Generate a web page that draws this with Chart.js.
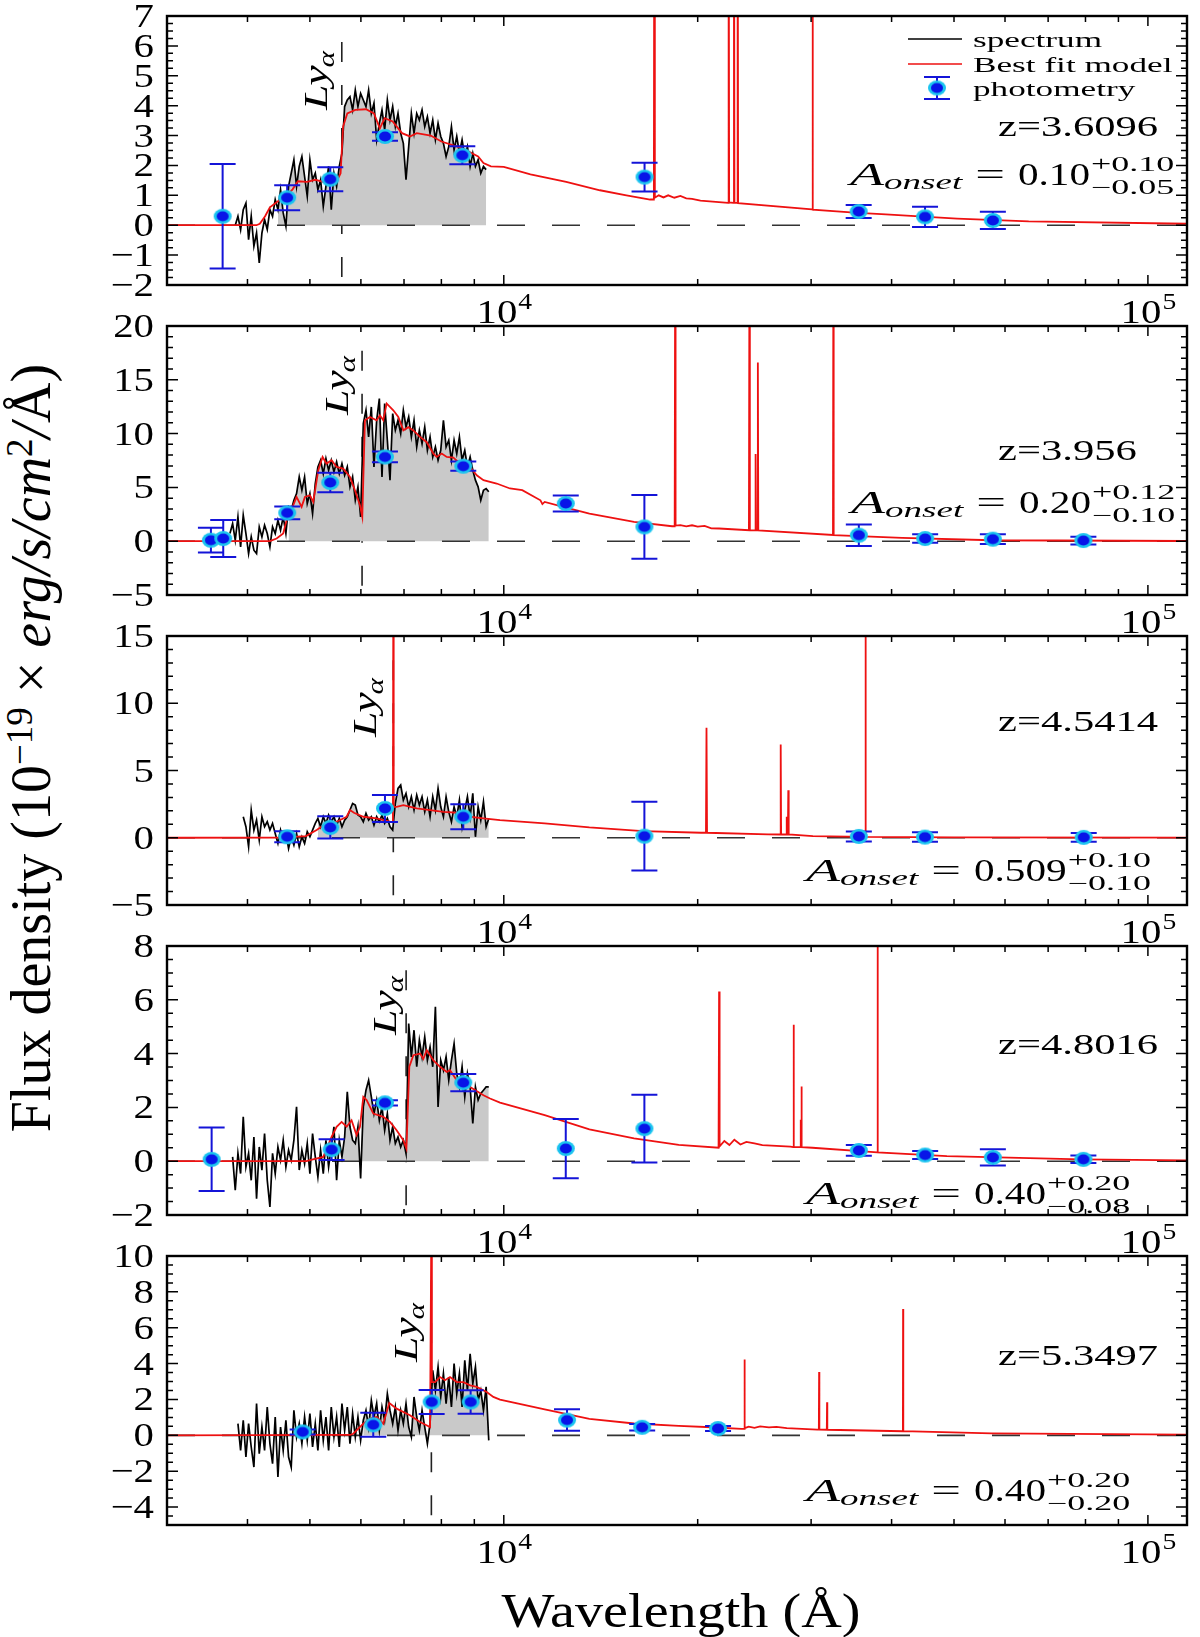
<!DOCTYPE html>
<html>
<head>
<meta charset="utf-8">
<script src="https://cdn.jsdelivr.net/npm/chart.js@4.4.1/dist/chart.umd.min.js"></script>
<style>
body { margin: 0; background: #fff; }
#fig { position: relative; width: 1200px; height: 1637px; background: #fff; overflow: hidden; }
#fig canvas { position: absolute; left: 0; }
.xlabel { position: absolute; left: 0; width: 1362px; top: 1587px; text-align: center;
  font: 48px "Liberation Serif", serif; line-height: 48px; transform: scaleX(1.17); white-space: nowrap; }
.ylabel { position: absolute; left: 31px; top: 748px; transform: translate(-50%, -50%) rotate(-90deg);
  font: 56px "Liberation Serif", serif; line-height: 1; white-space: nowrap; }
.ylabel sup { font-size: 0.66em; vertical-align: 0.5em; line-height: 0; }
</style>
</head>
<body>
<div id="fig">
  <div class="ylabel">Flux density (10<sup>−19</sup> × <i>erg/s/cm</i><sup>2</sup><i>/</i>Å)</div>
  <div class="xlabel">Wavelength (Å)</div>
</div>
<script>
// observed wavelength grid of the spectra (Å), shared by all five panels
const specWave = [
  3757, 3793, 3829, 3866, 3903, 3940, 3978, 4016, 4054, 4093,
  4132, 4172, 4212, 4252, 4293, 4334, 4375, 4417, 4460, 4502,
  4545, 4589, 4633, 4677, 4722, 4767, 4813, 4859, 4906, 4953,
  5000, 5048, 5097, 5145, 5195, 5245, 5295, 5346, 5397, 5449,
  5501, 5554, 5607, 5661, 5715, 5770, 5825, 5881, 5937, 5994,
  6052, 6110, 6168, 6228, 6287, 6348, 6409, 6470, 6532, 6595,
  6658, 6722, 6786, 6851, 6917, 6983, 7050, 7118, 7186, 7255,
  7325, 7395, 7466, 7538, 7610, 7683, 7757, 7831, 7906, 7982,
  8059, 8136, 8214, 8293, 8372, 8452, 8533, 8615, 8698, 8781,
  8866, 8951, 9036, 9123, 9210, 9299, 9388, 9477
];

const specFlux1 = [
  null, null, 0.0, 0.3, -0.15, 0.52, 0.74, -0.48, 0.3, -0.7,
  -0.26, -1.26, -0.26, 0.19, -0.14, 0.52, 0.3, 0.86, 0.52, 1.19,
  0.41, -0.03, 1.3, 1.74, 2.19, 1.3, 1.97, 2.3, 1.63, 0.97,
  2.19, 1.52, 1.74, 1.19, 1.52, 0.63, 1.3, 1.97, 0.52, 1.74,
  1.3, 1.97, 2.41, 3.97, 4.19, 4.3, 3.86, 4.52, 3.97, 4.41,
  4.19, 3.97, 4.52, 3.74, 4.08, 2.86, 3.41, 3.86, 3.19, 4.19,
  3.52, 3.97, 3.3, 3.74, 3.08, 2.74, 1.52, 2.63, 3.74, 3.08,
  3.74, 3.52, 3.86, 3.3, 3.63, 3.08, 3.52, 2.86, 3.41, 2.97,
  2.74, 2.3, 2.63, 3.3, 2.52, 2.97, 2.41, 2.86, 2.3, 2.63,
  1.97, 2.41, 1.97, 2.19, 1.74, 1.97, 1.86, null
];
const specFlux2 = [
  0.71, 1.64, 0.09, 2.26, -0.53, 2.41, 0.71, -1.15, 0.4, -0.84,
  -1.15, 1.33, 0.4, 1.49, 0.71, -0.53, 1.33, 0.71, 1.95, 1.02,
  2.26, 0.71, 3.19, 2.88, 3.81, 4.43, 5.98, 4.74, 5.98, 3.5,
  4.43, 2.57, 5.36, 6.9, 7.52, 6.28, 7.68, 6.59, 7.52, 6.44,
  7.37, 6.28, 7.21, 6.13, 6.9, 5.05, 5.98, 3.81, 5.05, 2.26,
  10.93, 12.17, 9.69, 12.48, 6.9, 11.24, 13.25, 5.98, 12.79, 9.38,
  5.67, 11.86, 10.31, 11.24, 10.0, 12.17, 10.62, 11.55, 9.69, 11.24,
  8.76, 10.31, 9.07, 10.62, 8.45, 9.69, 7.83, 8.76, 7.52, 8.45,
  11.24, 8.76, 9.38, 7.52, 9.38, 8.14, 9.69, 7.52, 8.45, 6.9,
  7.83, 6.59, 5.67, 5.05, 3.81, 4.74, 4.89, 4.6
];
const specFlux3 = [
  null, null, null, null, null, 1.56, 0.82, -0.67, 2.06, 0.57,
  1.31, -0.17, 1.56, 0.82, 1.19, 0.57, 1.07, 0.32, -0.42, 0.57,
  -0.17, 0.32, -0.79, 0.07, -0.55, 0.32, -0.67, 0.07, -0.42, 0.45,
  0.07, 0.57, 1.07, 1.44, 0.82, 1.56, 1.07, 1.69, 1.19, 1.56,
  0.94, 1.44, 0.82, 1.31, 1.56, 2.06, 2.55, 2.43, 1.69, 1.56,
  1.19, 1.81, 1.31, 1.56, 0.94, 1.56, 1.19, 1.69, 1.07, 1.44,
  0.82, 0.57, 2.55, 3.67, 3.92, 2.8, 3.3, 2.3, 3.05, 2.06,
  3.17, 2.43, 3.05, 1.93, 2.8, 1.56, 3.05, 2.06, 3.67, 2.3,
  1.56, 3.05, 1.93, 1.19, 2.3, 1.56, 2.8, 0.82, 2.06, 3.05,
  1.56, 3.3, 0.07, 2.3, 1.31, 2.68, 0.82, 1.44
];
const specFlux4 = [
  null, 0.16, -1.08, 0.29, -0.46, 1.65, -0.21, 0.29, -0.71, 0.9,
  -1.39, 0.53, -0.33, 1.03, -0.71, -1.7, 0.29, -0.46, 0.53, 0.04,
  0.78, -0.21, 0.41, 0.04, 0.78, 2.02, -0.33, 0.41, -0.09, 0.66,
  -0.46, 1.03, 0.16, -0.58, 0.41, -0.46, 0.78, -0.21, 0.53, 1.28,
  -0.71, 0.78, 0.16, 0.9, 2.58, 1.28, 0.78, 0.66, 1.28, -0.64,
  2.02, 2.64, 3.01, 2.39, 1.77, 2.27, 1.52, 2.02, 1.15, 1.77,
  0.78, 1.28, 0.66, 0.9, 0.53, 0.78, 0.29, 5.12, 3.88, 4.87,
  3.51, 4.5, 3.88, 4.62, 3.75, 4.25, 3.51, 5.74, 2.02, 3.75,
  3.38, 3.88, 3.01, 3.75, 4.37, 3.26, 2.76, 3.51, 2.39, 3.26,
  2.76, 1.4, 2.76, 2.27, 2.52, 2.64, 2.76, 2.76
];
const specFlux5 = [
  null, null, null, 0.65, -0.84, 0.84, -1.21, 0.65, -0.65, -1.77,
  1.77, -1.02, 0.46, -0.84, 1.58, -0.46, -1.58, 1.02, -2.32, 0.46,
  -0.84, 0.84, -1.21, -1.77, 1.39, -0.09, 0.65, -0.46, 1.02, -0.28,
  1.21, -0.65, 0.65, -0.84, 1.39, -0.28, 1.02, -0.84, 1.58, -0.09,
  1.02, -0.65, 1.77, 0.28, 1.58, -0.46, 1.21, -0.09, 1.02, -0.28,
  0.84, 1.39, 0.46, 1.95, 1.02, 1.77, 0.28, 1.58, 0.84, 2.32,
  1.39, 0.65, 1.58, 0.28, 1.39, 0.65, 1.77, 0.46, -0.09, 2.14,
  1.02, 0.28, 1.39, 0.46, -0.46, 0.65, 3.62, 2.51, 3.81, 2.14,
  3.44, 1.77, 3.25, 1.58, 4.0, 2.32, 3.44, 1.58, 4.18, 2.51,
  4.55, 2.88, 3.81, 1.95, 2.51, 1.39, 2.7, -0.28
];

// best fit model, [wavelength, flux] pairs
const model1 = [[3000,0],[4130,0],[4180,0.05],[4260,0.3],[4334,0.6],[4460,0.8],[4589,0.97],[4700,1.2],[4790,1.47],
  [4950,1.45],[5097,1.52],[5245,1.45],[5449,1.41],[5540,1.6],[5580,1.74],[5630,3.3],[5715,3.74],[5881,3.86],
  [6110,3.88],[6287,3.74],[6420,3.24],[6532,3.58],[6722,3.47],[6950,3.08],[7150,2.97],[7325,3.08],[7700,3.0],
  [8000,2.8],[8615,2.58],[9123,2.3],[9299,2.08],[9550,1.97],[10000,1.95],[11000,1.7],[12500,1.45],[14100,1.17],
  [15500,1.0],[16870,0.86],[17100,0.86],[17130,14],[17160,0.92],[17400,1.0],[17700,0.93],[18000,1.0],
  [18400,0.92],[18800,0.98],[19200,0.9],[19600,0.88],[20200,0.82],[22300,0.75],[22340,14],[22380,0.76],
  [22730,0.75],[22770,14],[22810,0.75],[23030,0.75],[23070,14],[23110,0.74],[30100,0.53],[30150,14],
  [30200,0.52],[35000,0.42],[39170,0.36],[50550,0.22],[65300,0.13],[115000,0.05]];
const model2 = [[3000,0],[4334,0],[4439,0.25],[4545,0.71],[4600,1.95],[4656,2.57],[4767,4.12],[4854,3.19],
  [4912,4.12],[5000,4.27],[5061,3.65],[5152,6.6],[5232,7.83],[5307,7.21],[5403,7.52],[5501,6.9],[5632,6.75],
  [5770,5.98],[5873,4.74],[5980,3.34],[6030,2.26],[6087,11.24],[6197,11.55],[6348,11.24],[6422,11.7],
  [6500,11.24],[6578,12.8],[6737,12.17],[6859,11.55],[6983,10.3],[7109,10.6],[7238,10.3],[7413,9.7],
  [7592,9.2],[7775,8.14],[7867,7.83],[8010,8.14],[8155,7.83],[8351,7.77],[8551,7.2],[8866,6.9],[9078,6.13],
  [9299,5.67],[9748,5.36],[10223,4.9],[10683,4.74],[11400,3.8],[11480,3.45],[11574,3.65],[12536,3.1],
  [13580,2.57],[15930,1.8],[18250,1.39],[18420,1.39],[18450,24],[18480,1.45],[18800,1.5],[19200,1.38],
  [19600,1.48],[20000,1.35],[20500,1.42],[21000,1.2],[21590,1.18],[24020,1.02],[24060,24],[24100,1.02],
  [24560,1.0],[24600,8.1],[24640,1.0],[24760,1.0],[24800,16.6],[24840,1.0],[32440,0.58],[32480,24],
  [32520,0.56],[41540,0.31],[57190,0.09],[115000,0.02]];
const model3 = [[3000,0],[4545,0.02],[4930,0.12],[5122,0.57],[5307,1.07],[5501,1.19],[5702,1.56],[5770,2.06],
  [5853,1.86],[6052,1.56],[6348,1.44],[6658,1.19],[6728,1.15],[6737,18],[6746,2.3],[6817,2.3],[6983,2.43],
  [7325,2.18],[7683,2.06],[8059,1.93],[8452,1.86],[8866,1.56],[9299,1.44],[9865,1.31],[11574,1.07],
  [13580,0.77],[16450,0.5],[20240,0.37],[20600,0.37],[20640,8.18],[20680,0.37],[25720,0.25],[26870,0.24],
  [26910,6.94],[26950,0.24],[27450,0.24],[27480,1.56],[27510,0.24],[27610,0.24],[27650,3.54],[27690,0.24],
  [30190,0.12],[36400,0.07],[36440,20],[36480,0.07],[50000,0.03],[115000,0.01]];
const model4 = [[3000,0],[4941,0],[5000,0.04],[5245,0.16],[5403,0.9],[5501,1.28],[5600,1.46],[5702,1.28],
  [5803,1.52],[5908,0.97],[5980,1.28],[6052,2.39],[6124,2.27],[6272,1.77],[6500,1.65],[6658,1.46],[6817,1.15],
  [6983,0.78],[7060,0.47],[7134,3.51],[7238,3.94],[7413,4.0],[7499,3.8],[7592,4.13],[7775,3.75],[7962,3.51],
  [8155,3.32],[8250,3.38],[8452,3.01],[8652,2.88],[8866,2.76],[9299,2.45],[9520,2.33],[9865,2.18],
  [11574,1.71],[13580,1.18],[15930,0.85],[18690,0.61],[21550,0.5],[21590,6.31],[21630,0.55],[22000,0.75],
  [22400,0.6],[22800,0.8],[23300,0.62],[23800,0.72],[24500,0.66],[25200,0.6],[27860,0.54],[28150,0.52],
  [28180,5.07],[28210,0.52],[28880,0.52],[28910,1.54],[28940,0.52],[28970,0.52],[29000,2.78],[29030,0.52],
  [30140,0.5],[38020,0.33],[38050,20],[38080,0.33],[48740,0.19],[78740,0.07],[115000,0.03]];
const model5 = [[3000,0],[5770,0.02],[5838,0.09],[6052,0.65],[6197,0.93],[6348,1.02],[6500,0.65],[6641,1.8],
  [6817,1.49],[7150,1.12],[7413,0.74],[7683,0.46],[7705,0.46],[7719,12],[7733,2.97],[7819,2.97],[7962,3.25],
  [8105,3.07],[8250,3.25],[8452,2.97],[8652,2.97],[8866,2.79],[9078,2.7],[9407,2.42],[9633,2.14],[9865,1.99],
  [11574,1.45],[13580,0.92],[15930,0.66],[18690,0.53],[21000,0.45],[23380,0.36],[23610,0.36],[23640,4.23],
  [23670,0.4],[24000,0.48],[24500,0.42],[25000,0.5],[25800,0.44],[26500,0.47],[27500,0.4],[30670,0.32],
  [30840,0.32],[30870,3.53],[30900,0.32],[31730,0.31],[31760,1.84],[31790,0.31],[41650,0.23],[41680,7.05],
  [41710,0.23],[57190,0.11],[115000,0.04]];

// photometry: wavelength, flux, symmetric error
const photWave1 = [3660, 4610, 5378, 6540, 8622, 16540, 35560, 45080, 57450];
const photFlux1 = [0.3, 0.92, 1.54, 2.97, 2.34, 1.61, 0.46, 0.28, 0.16];
const photErr1  = [1.75, 0.42, 0.4, 0.14, 0.3, 0.48, 0.22, 0.34, 0.29];
const photWave2 = [3510, 3668, 4611, 5378, 6539, 8652, 12480, 16530, 35580, 45100, 57450, 79400];
const photFlux2 = [0.09, 0.25, 2.63, 5.45, 7.83, 6.97, 3.5, 1.33, 0.56, 0.25, 0.19, 0.06];
const photErr2  = [1.15, 1.73, 0.6, 0.9, 0.5, 0.43, 0.74, 2.97, 1.0, 0.39, 0.46, 0.36];
const photWave3 = [4611, 5378, 6539, 8652, 16530, 35580, 45070, 79500];
const photFlux3 = [0.07, 0.77, 2.18, 1.56, 0.12, 0.1, 0.05, 0.03];
const photErr3  = [0.41, 0.82, 1.0, 0.93, 2.55, 0.37, 0.35, 0.32];
const photWave4 = [3519, 5403, 6539, 8652, 12480, 16530, 35580, 45100, 57450, 79400];
const photFlux4 = [0.07, 0.43, 2.17, 2.92, 0.47, 1.21, 0.4, 0.23, 0.14, 0.07];
const photErr4  = [1.18, 0.39, 0.1, 0.32, 1.1, 1.26, 0.2, 0.15, 0.3, 0.14];
const photWave5 = [4872, 6271, 7727, 8882, 12536, 16400, 21510];
const photFlux5 = [0.19, 0.59, 1.86, 1.86, 0.85, 0.45, 0.38];
const photErr5  = [0.14, 0.67, 0.67, 0.65, 0.6, 0.18, 0.14];

const redshift = ['3.6096', '3.956', '4.5414', '4.8016', '5.3497'];
const aOnset   = ['0.10', '0.20', '0.509', '0.40', '0.40'];
const aPlus    = ['+0.10', '+0.12', '+0.10', '+0.20', '+0.20'];
const aMinus   = ['−0.05', '−0.10', '−0.10', '−0.08', '−0.20'];
const lyaWave  = [5604, 6025, 6737, 7053, 7719];
const lyaTop   = [6.13, 17.7, 13.2, 7.1, 8.65];
const grayStart = [4460, 4600, 5100, 5600, 6050];
const grayEnd = 9500;

const yMin   = [-2, -5, -5, -2, -5];
const yMax   = [7, 20, 15, 8, 10];
const yMajor = [1, 5, 5, 2, 2];
const yMinor = [0.25, 1, 1, 0.5, 0.5];
const xMajorTicks = [10000, 100000];
const xMinorTicks = [4000, 5000, 6000, 7000, 8000, 9000, 20000, 30000, 40000, 50000, 60000, 70000, 80000, 90000];
const xTickExp = ['4', '5'];

const specFlux = [specFlux1, specFlux2, specFlux3, specFlux4, specFlux5];
const models = [model1, model2, model3, model4, model5];
const photWave = [photWave1, photWave2, photWave3, photWave4, photWave5];
const photFlux = [photFlux1, photFlux2, photFlux3, photFlux4, photFlux5];
const photErr = [photErr1, photErr2, photErr3, photErr4, photErr5];

// layout (pixels)
const PANEL_STEP = 310, CANVAS_H = 360;
const zTextY = [120, 134, 95, 108, 109];
const aTextX = [850, 851, 806, 806, 806];
const aTextY = [169, 187, 245, 258, 245];
const lyaDx = [-15, -14, -17, -10, -14];
const lyaY = [94, 89, 101, 89, 106];

const FONT = '"Liberation Serif", serif';
const BLUE = '#1414d8';

function txt(ctx, s, x, y, size, sx, opt) {
  opt = opt || {};
  ctx.save();
  ctx.font = (opt.italic ? 'italic ' : '') + size + 'px ' + FONT;
  ctx.fillStyle = '#000';
  ctx.textBaseline = 'alphabetic';
  ctx.translate(x, y);
  ctx.scale(sx, 1);
  const w = ctx.measureText(s).width;
  const dx = opt.align === 'right' ? -w : (opt.align === 'center' ? -w / 2 : 0);
  ctx.fillText(s, dx, 0);
  ctx.restore();
  return w * sx;
}
function txtWidth(ctx, s, size, sx, italic) {
  ctx.save();
  ctx.font = (italic ? 'italic ' : '') + size + 'px ' + FONT;
  const w = ctx.measureText(s).width * sx;
  ctx.restore();
  return w;
}

// photometry marker: blue disc with cyan rim
const markerImg = document.createElement('canvas');
markerImg.width = 20; markerImg.height = 17;
(function () {
  const m = markerImg.getContext('2d');
  m.fillStyle = '#1cc4ef';
  m.beginPath(); m.ellipse(10, 8.5, 9, 7.5, 0, 0, 2 * Math.PI); m.fill();
  m.fillStyle = '#0814e8';
  m.beginPath(); m.ellipse(10, 8.5, 6, 5, 0, 0, 2 * Math.PI); m.fill();
})();

function errBar(ctx, px, top, bot) {
  ctx.beginPath();
  ctx.moveTo(px, top); ctx.lineTo(px, bot);
  ctx.moveTo(px - 13, top); ctx.lineTo(px + 13, top);
  ctx.moveTo(px - 13, bot); ctx.lineTo(px + 13, bot);
  ctx.stroke();
}

function clipArea(ctx, a) {
  ctx.beginPath();
  ctx.rect(a.left, a.top, a.right - a.left, a.bottom - a.top);
  ctx.clip();
}

const panelDecor = {
  id: 'panelDecor',
  beforeDatasetsDraw(chart) {
    const i = +chart.canvas.dataset.panel;
    const { ctx, chartArea: a } = chart;
    const px = chart.scales.x.getPixelForValue(lyaWave[i]);
    const py = chart.scales.y.getPixelForValue(lyaTop[i]);
    ctx.save();
    clipArea(ctx, a);
    ctx.strokeStyle = '#222';
    ctx.lineWidth = 1.6;
    ctx.setLineDash([20, 23]);
    ctx.beginPath(); ctx.moveTo(px, py); ctx.lineTo(px, a.bottom); ctx.stroke();
    ctx.restore();
  },
  afterDatasetDraw(chart, args) {
    const i = +chart.canvas.dataset.panel;
    const { ctx, chartArea: a } = chart;
    const xs = chart.scales.x, ys = chart.scales.y;
    if (args.index === 3) {
      const py = ys.getPixelForValue(0);
      ctx.save();
      clipArea(ctx, a);
      ctx.strokeStyle = '#333';
      ctx.lineWidth = 1.6;
      ctx.setLineDash([28, 27]);
      ctx.beginPath(); ctx.moveTo(a.left, py); ctx.lineTo(a.right, py); ctx.stroke();
      ctx.restore();
    }
    if (args.index === 1) {
      ctx.save();
      clipArea(ctx, a);
      ctx.strokeStyle = BLUE;
      ctx.lineWidth = 2;
      photWave[i].forEach((w, k) => {
        errBar(ctx, xs.getPixelForValue(w),
          ys.getPixelForValue(photFlux[i][k] + photErr[i][k]),
          ys.getPixelForValue(photFlux[i][k] - photErr[i][k]));
      });
      ctx.restore();
    }
  },
  afterDraw(chart) {
    const i = +chart.canvas.dataset.panel;
    const { ctx, chartArea: a } = chart;
    const xs = chart.scales.x, ys = chart.scales.y;
    ctx.save();
    ctx.strokeStyle = '#000';
    ctx.lineWidth = 1.5;

    // x ticks, top and bottom, pointing in
    const xt = (v, len) => {
      const px = xs.getPixelForValue(v);
      ctx.beginPath();
      ctx.moveTo(px, a.bottom); ctx.lineTo(px, a.bottom - len);
      ctx.moveTo(px, a.top); ctx.lineTo(px, a.top + len);
      ctx.stroke();
    };
    xMinorTicks.forEach(v => xt(v, 6));
    xMajorTicks.forEach(v => xt(v, 10));

    // y ticks, left and right
    const n = Math.round((yMax[i] - yMin[i]) / yMinor[i]);
    for (let j = 0; j <= n; j++) {
      const v = yMin[i] + j * yMinor[i];
      const r = v / yMajor[i];
      const major = Math.abs(r - Math.round(r)) < 1e-6;
      const len = major ? 11 : 6;
      const py = ys.getPixelForValue(v);
      ctx.beginPath();
      ctx.moveTo(a.left, py); ctx.lineTo(a.left + len, py);
      ctx.moveTo(a.right, py); ctx.lineTo(a.right - len, py);
      ctx.stroke();
      if (major) {
        const lab = v < 0 ? '−' + Math.abs(v) : String(v);
        txt(ctx, lab, 154, py + 11, 34, 1.2, { align: 'right' });
      }
    }

    // frame
    ctx.lineWidth = 2.4;
    ctx.strokeRect(a.left, a.top, a.right - a.left, a.bottom - a.top);

    // x tick labels 10^4, 10^5
    xMajorTicks.forEach((v, k) => {
      const px = xs.getPixelForValue(v);
      const w1 = txtWidth(ctx, '10', 34, 1.2);
      const w2 = txtWidth(ctx, xTickExp[k], 23, 1.2);
      const x0 = px - (w1 + w2) / 2;
      txt(ctx, '10', x0, a.bottom + 38, 34, 1.2);
      txt(ctx, xTickExp[k], x0 + w1 + 1, a.bottom + 24, 23, 1.2);
    });

    // redshift
    txt(ctx, 'z=' + redshift[i], 998, a.top + zTextY[i], 30, 1.42);

    // onset amplitude
    let x = aTextX[i];
    const yb = a.top + aTextY[i];
    x += txt(ctx, 'A', x, yb, 31, 1.8, { italic: true });
    x += txt(ctx, 'onset', x, yb + 4, 20, 1.85, { italic: true });
    x += 13;
    x += txt(ctx, '=', x, yb, 31, 1.7);
    x += 13;
    x += txt(ctx, aOnset[i], x, yb, 31, 1.33);
    txt(ctx, aPlus[i], x + 1, yb - 14, 20, 1.8);
    txt(ctx, aMinus[i], x + 1, yb + 9, 20, 1.8);

    // Ly alpha label, rotated
    const bx = xs.getPixelForValue(lyaWave[i]) + lyaDx[i];
    ctx.save();
    ctx.translate(bx, a.top + lyaY[i]);
    ctx.rotate(-Math.PI / 2);
    const wLy = txt(ctx, 'Ly', 0, 0, 34, 1.35, { italic: true });
    txt(ctx, 'α', wLy - 2, 7, 24, 1.3, { italic: true });
    ctx.restore();

    // legend (top panel only)
    if (i === 0) {
      ctx.lineWidth = 1.5;
      ctx.strokeStyle = '#000';
      ctx.beginPath(); ctx.moveTo(908, 39); ctx.lineTo(962, 39); ctx.stroke();
      txt(ctx, 'spectrum', 973, 47, 22, 1.6);
      ctx.strokeStyle = '#ee1111';
      ctx.beginPath(); ctx.moveTo(908, 64); ctx.lineTo(962, 64); ctx.stroke();
      txt(ctx, 'Best fit model', 973, 72, 22, 1.6);
      ctx.strokeStyle = BLUE;
      ctx.lineWidth = 2;
      errBar(ctx, 937, 77, 99);
      ctx.drawImage(markerImg, 937 - 10, 88 - 8.5);
      txt(ctx, 'photometry', 973, 96, 22, 1.6);
    }
    ctx.restore();
  }
};

const fig = document.getElementById('fig');

function makePanel(i) {
  const cv = document.createElement('canvas');
  cv.width = 1200;
  cv.height = CANVAS_H;
  cv.style.top = (PANEL_STEP * i) + 'px';
  cv.dataset.panel = i;
  fig.appendChild(cv);

  const spec = [];
  specWave.forEach((w, k) => {
    if (specFlux[i][k] !== null) spec.push({ x: w, y: specFlux[i][k] });
  });
  const shade = spec.filter(p => p.x >= grayStart[i] && p.x <= grayEnd)
    .map(p => ({ x: p.x, y: Math.max(0, p.y) }));
  const model = models[i].map(p => ({ x: p[0], y: p[1] }));
  const phot = photWave[i].map((w, k) => ({ x: w, y: photFlux[i][k] }));

  new Chart(cv, {
    type: 'line',
    data: {
      datasets: [
        { label: 'photometry', data: phot, showLine: false, pointStyle: markerImg, pointRadius: 8 },
        { label: 'Best fit model', data: model, borderColor: '#ee1111', borderWidth: 1.8, pointRadius: 0, fill: false },
        { label: 'spectrum', data: spec, borderColor: '#000', borderWidth: 1.7, pointRadius: 0, fill: false },
        { label: 'shade', data: shade, borderWidth: 0, borderColor: 'rgba(0,0,0,0)', pointRadius: 0,
          backgroundColor: '#c9c9c9', fill: 'origin' }
      ]
    },
    options: {
      responsive: false,
      animation: false,
      devicePixelRatio: 1,
      events: [],
      layout: { padding: { left: 167, right: 13, top: 16, bottom: CANVAS_H - 16 - 269 } },
      elements: { line: { tension: 0 } },
      plugins: { legend: { display: false }, tooltip: { enabled: false } },
      scales: {
        x: { type: 'logarithmic', min: 3000, max: 115000, display: false },
        y: { type: 'linear', min: yMin[i], max: yMax[i], display: false }
      }
    },
    plugins: [panelDecor]
  });
}

for (let i = 0; i < 5; i++) makePanel(i);
</script>
</body>
</html>
